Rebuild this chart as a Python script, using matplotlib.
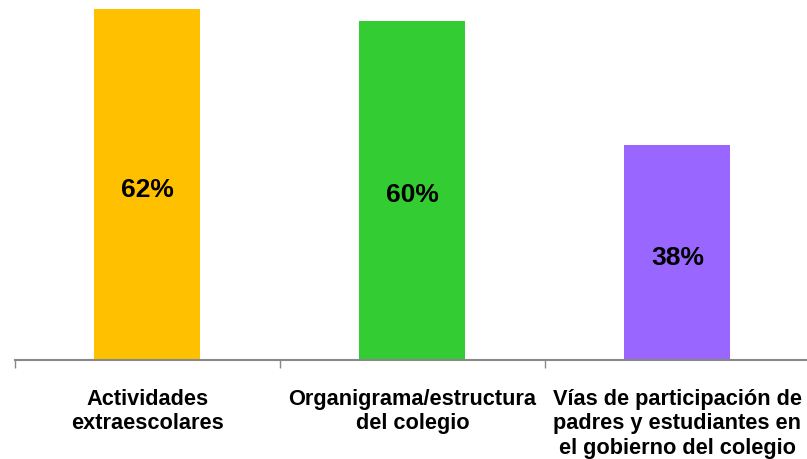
import matplotlib
matplotlib.use("Agg")
import matplotlib.pyplot as plt
from matplotlib.ticker import FixedLocator

categories = ["Actividades\nextraescolares",
              "Organigrama/estructura\ndel colegio",
              "Vías de participación de\npadres y estudiantes en\nel gobierno del colegio"]
values = [62, 60, 38]
labels = ["62%", "60%", "38%"]
colors = ["#FFC000", "#33CC33", "#9966FF"]

plt.rcParams['font.family'] = ['Liberation Sans', 'DejaVu Sans']

fig = plt.figure(figsize=(8.07, 4.60), dpi=100)
ax = fig.add_axes([15/807, 99/460, 795/807, 361/460])
x = list(range(len(values)))
ax.bar(x, values, width=0.4, color=colors)
for xi, v, lab in zip(x, values, labels):
    ax.annotate(lab, (xi, v/2), xytext=(0, -3), textcoords='offset points',
                ha='center', va='center', fontsize=19, fontweight='bold', color='black')

ax.set_xlim(-0.5, 2.5)
ax.set_ylim(0, 63.8)
ax.set_yticks([])
for s in ['top', 'right', 'left']:
    ax.spines[s].set_visible(False)
ax.spines['bottom'].set_color('#888888')
ax.spines['bottom'].set_linewidth(1.5)
ax.set_xticks(x)
ax.set_xticklabels(categories, fontsize=15.7, fontweight='bold', linespacing=1.22)
ax.tick_params(axis='x', which='major', length=0, pad=20)
ax.xaxis.set_minor_locator(FixedLocator([-0.5, 0.5, 1.5, 2.5]))
ax.tick_params(axis='x', which='minor', length=6, color='#888888', width=1)

fig.savefig("out.png", dpi=100)
